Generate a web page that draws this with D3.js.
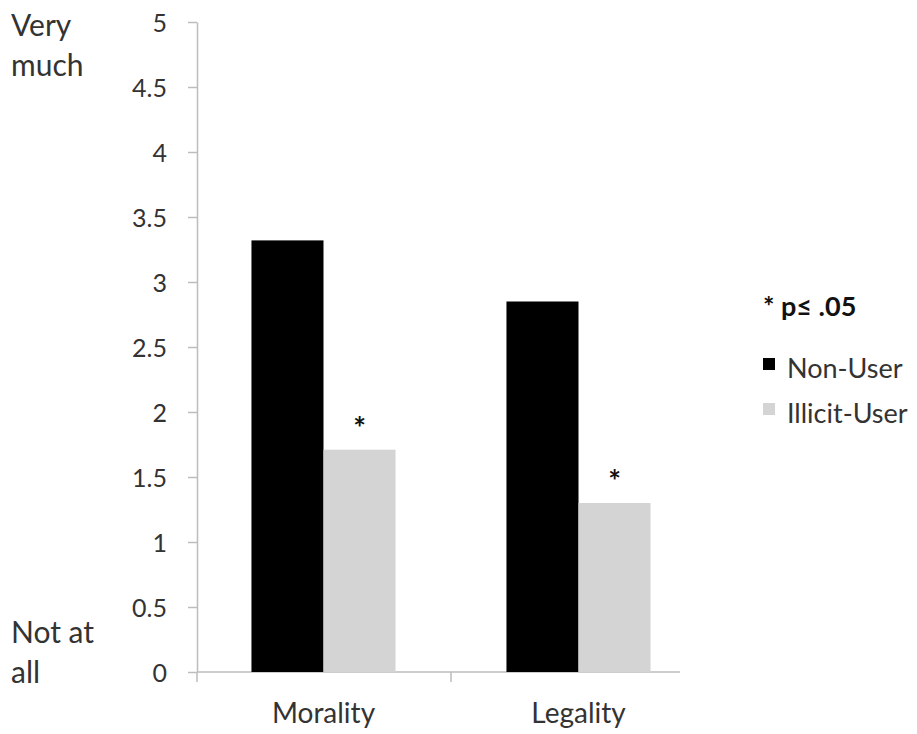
<!DOCTYPE html>
<html>
<head>
<meta charset="utf-8">
<script src="https://cdn.jsdelivr.net/npm/d3@7"></script>
<style>
  html, body { margin: 0; padding: 0; background: #fff; }
  svg { display: block; font-family: Lato, "Open Sans", sans-serif; }
</style>
</head>
<body>
<svg id="chart" width="917" height="734"></svg>
<script>
// ---- data ----
const categories = ["Morality", "Legality"];
const seriesNames = ["Non-User", "Illicit-User"];
const nonUser = [3.32, 2.85];
const illicitUser = [1.71, 1.30];
const significant = [[false, true], [false, true]]; // [category][series]
const yTicks = [0, 0.5, 1, 1.5, 2, 2.5, 3, 3.5, 4, 4.5, 5];
const yTopLabel = ["Very", "much"];
const yBottomLabel = ["Not at", "all"];
const legendNote = "* p\u2264 .05";

const colors = ["#000000", "#d4d4d4"];
const textColor = "#333333";
const axisColor = "#bdbdbd";

const svg = d3.select("#chart");
const margin = { left: 197, top: 22 };
const plotH = 650;
const bandW = 510;
const axisLen = 483;

const g = svg.append("g").attr("transform", `translate(${margin.left},${margin.top})`);

const y = d3.scaleLinear().domain([0, 5]).range([plotH, 0]);
const x = d3.scaleBand().domain(categories).range([-1, bandW - 1])
  .paddingInner(0.435).paddingOuter(0.2175);
const xs = d3.scaleBand().domain(seriesNames).range([0, x.bandwidth()]);

// y axis
const yAxis = d3.axisLeft(y).tickValues(yTicks).tickSize(9).tickSizeOuter(0)
  .tickPadding(21).tickFormat(d => String(d));
const yg = g.append("g").call(yAxis);
yg.select(".domain").attr("stroke", axisColor).attr("stroke-width", 1.5);
yg.selectAll(".tick line").attr("stroke", axisColor).attr("stroke-width", 1.5);
yg.selectAll(".tick text").attr("fill", textColor).style("font-size", "25px")
  .style("font-family", "Lato, sans-serif").attr("dy", "0.36em");

// x axis line
g.append("line").attr("x1", 0).attr("x2", axisLen).attr("y1", plotH).attr("y2", plotH)
  .attr("stroke", axisColor).attr("stroke-width", 1.5);
// category boundary ticks
const step = x.step();
const boundaries = [x(categories[0]) - step * x.paddingInner() / 2 + 1,
  x(categories[0]) + x.bandwidth() + step * x.paddingInner() / 2];
g.selectAll(".xtick").data(boundaries).join("line").attr("class", "xtick")
  .attr("x1", d => d).attr("x2", d => d).attr("y1", plotH).attr("y2", plotH + 10)
  .attr("stroke", axisColor).attr("stroke-width", 1.5);

// category labels
g.selectAll(".xlabel").data(categories).join("text").attr("class", "xlabel")
  .attr("x", d => x(d) + x.bandwidth() / 2).attr("y", plotH + 51)
  .attr("text-anchor", "middle").attr("fill", textColor).style("font-size", "28px")
  .text(d => d);

// bars
const data = categories.map((c, i) => ({ cat: c, values: [nonUser[i], illicitUser[i]] }));
const groups = g.selectAll(".grp").data(data).join("g").attr("class", "grp")
  .attr("transform", d => `translate(${x(d.cat)},0)`);
groups.selectAll("rect").data(d => d.values.map((v, j) => ({ v, j, s: seriesNames[j] })))
  .join("rect")
  .attr("x", d => xs(d.s)).attr("width", xs.bandwidth())
  .attr("y", d => y(d.v)).attr("height", d => y(0) - y(d.v))
  .attr("fill", d => colors[d.j]);

// significance stars
data.forEach((d, i) => {
  d.values.forEach((v, j) => {
    if (significant[i][j]) {
      g.append("text")
        .attr("x", x(d.cat) + xs(seriesNames[j]) + xs.bandwidth() / 2)
        .attr("y", y(v) - 11)
        .attr("text-anchor", "middle").attr("fill", "#111")
        .style("font-size", "30px").style("font-weight", "bold")
        .text("*");
    }
  });
});

// y end labels
const endLabels = svg.append("g").attr("fill", textColor).style("font-size", "30px");
yTopLabel.forEach((t, i) => endLabels.append("text").attr("x", 11).attr("y", 36 + i * 40).text(t));
yBottomLabel.forEach((t, i) => endLabels.append("text").attr("x", 11).attr("y", 643 + i * 40).text(t));

// legend
const lg = svg.append("g").attr("transform", "translate(763,0)");
lg.append("text").attr("x", 0).attr("y", 316).attr("fill", "#111")
  .style("font-size", "27px").style("font-weight", "bold").text(legendNote);
seriesNames.forEach((s, i) => {
  const yy = 358 + i * 45;
  lg.append("rect").attr("x", 0).attr("y", yy).attr("width", 12).attr("height", 12)
    .attr("fill", colors[i]);
  lg.append("text").attr("x", 24).attr("y", yy + 20).attr("fill", textColor)
    .style("font-size", "27px").text(s);
});
</script>
</body>
</html>
